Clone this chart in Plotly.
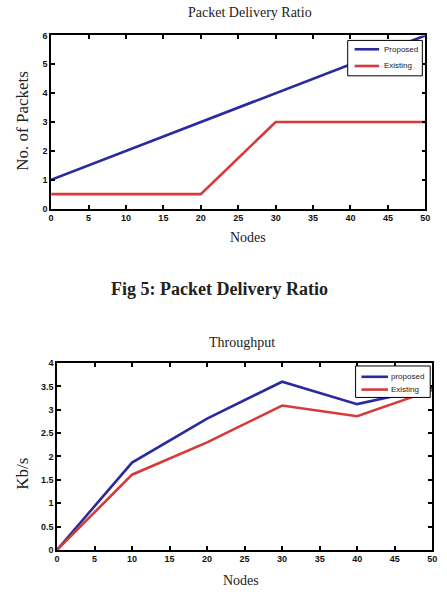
import plotly.graph_objects as go

W, H = 447, 609

# ---- data ----
nodes = [0, 10, 20, 30, 40, 50]
pdr_proposed = [1, 2, 3, 4, 5, 6]
pdr_existing = [0.5, 0.5, 0.5, 3, 3, 3]

thr_proposed = [0, 1.87, 2.81, 3.6, 3.12, 3.47]
thr_existing = [0, 1.61, 2.3, 3.09, 2.86, 3.42]

x_ticks = list(range(0, 51, 5))
pdr_yticks = [0, 1, 2, 3, 4, 5, 6]
thr_yticks = [0, 0.5, 1, 1.5, 2, 2.5, 3, 3.5, 4]

pdr_names = ["Proposed", "Existing"]
thr_names = ["proposed", "Existing"]

BLUE = "#2a2aa0"
RED = "#d63a3a"


def px(x):
    return x / W


def py(y):
    return 1 - y / H


fig = go.Figure()

fig.add_trace(go.Scatter(x=nodes, y=pdr_proposed, mode="lines", name=pdr_names[0],
                         line=dict(color=BLUE, width=2.6), xaxis="x", yaxis="y"))
fig.add_trace(go.Scatter(x=nodes, y=pdr_existing, mode="lines", name=pdr_names[1],
                         line=dict(color=RED, width=2.6), xaxis="x", yaxis="y"))
fig.add_trace(go.Scatter(x=nodes, y=thr_proposed, mode="lines", name=thr_names[0],
                         line=dict(color=BLUE, width=2.6), xaxis="x2", yaxis="y2"))
fig.add_trace(go.Scatter(x=nodes, y=thr_existing, mode="lines", name=thr_names[1],
                         line=dict(color=RED, width=2.6), xaxis="x2", yaxis="y2"))

tickfont = dict(family="Liberation Sans", size=9, color="#111", weight="bold")
axis_common = dict(showline=True, linecolor="black", linewidth=1.5, mirror="ticks",
                   ticks="inside", ticklen=4, tickcolor="black", tickwidth=1.5,
                   showgrid=False, zeroline=False, tickfont=tickfont)

fig.update_layout(
    width=W, height=H,
    margin=dict(l=0, r=0, t=0, b=0),
    paper_bgcolor="white", plot_bgcolor="white",
    showlegend=False,
    xaxis=dict(domain=[px(49), px(430)], range=[0, 50], tickvals=x_ticks,
               anchor="y", **axis_common),
    yaxis=dict(domain=[py(207), py(31)], range=[0, 6], tickvals=pdr_yticks,
               anchor="x", **axis_common),
    xaxis2=dict(domain=[px(55), px(437)], range=[0, 50], tickvals=x_ticks,
                anchor="y2", **axis_common),
    yaxis2=dict(domain=[py(554), py(364)], range=[0, 4], tickvals=thr_yticks,
                ticktext=[str(v) if v != int(v) else str(int(v)) for v in thr_yticks],
                anchor="x2", **axis_common),
)

# ---- manual legends (compact MATLAB-style boxes) ----
def add_legend(box, names, colors, rows_y, line_x, text_x):
    x0, y0, x1, y1 = box
    fig.add_shape(type="rect", xref="paper", yref="paper",
                  x0=px(x0), x1=px(x1), y0=py(y1), y1=py(y0),
                  fillcolor="white", line=dict(color="black", width=1), layer="above")
    for name, color, ry in zip(names, colors, rows_y):
        fig.add_shape(type="line", xref="paper", yref="paper",
                      x0=px(line_x[0]), x1=px(line_x[1]), y0=py(ry), y1=py(ry),
                      line=dict(color=color, width=2.6), layer="above")
        fig.add_annotation(text=name, x=px(text_x), y=py(ry), xref="paper", yref="paper",
                           xanchor="left", yanchor="middle", showarrow=False,
                           font=dict(family="Liberation Sans", size=8, color="#222"))


add_legend((351, 36, 427, 72), pdr_names, [BLUE, RED], [45, 62], (358, 383), 386)
add_legend((359, 367, 435, 399), thr_names, [BLUE, RED], [378, 391], (365, 392), 393)

serif = "Liberation Serif"
ann = [
    dict(text="Packet Delivery Ratio", x=px(251), y=py(8), size=14, angle=0),
    dict(text="No. of Packets", x=px(19), y=py(118), size=17, angle=-90),
    dict(text="Nodes", x=px(249), y=py(236), size=14, angle=0),
    dict(text="<b>Fig 5: Packet Delivery Ratio</b>", x=px(220), y=py(289), size=18, angle=0),
    dict(text="Throughput", x=px(243), y=py(343), size=14, angle=0),
    dict(text="Kb/s", x=px(20), y=py(477), size=17, angle=-90),
    dict(text="Nodes", x=px(242), y=py(585), size=14, angle=0),
]
for a in ann:
    fig.add_annotation(text=a["text"], x=a["x"], y=a["y"], xref="paper", yref="paper",
                       xanchor="center", yanchor="middle", showarrow=False,
                       textangle=a["angle"],
                       font=dict(family=serif, size=a["size"], color="#222"))

fig.write_html("out.html")
